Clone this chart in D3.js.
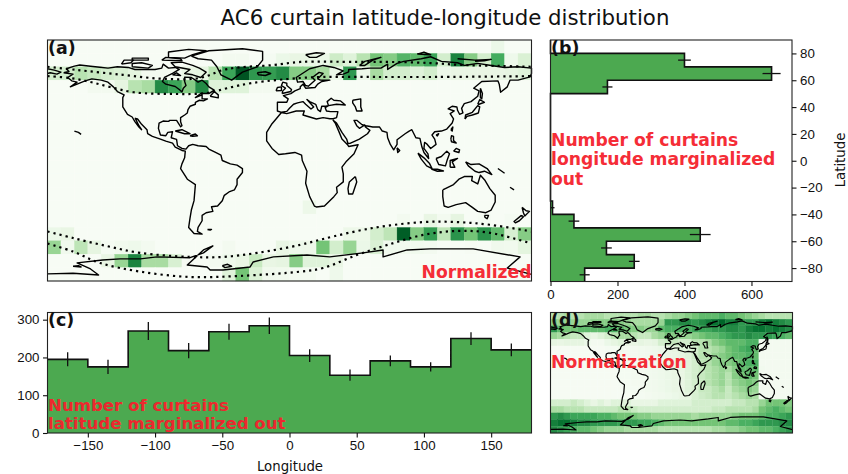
<!DOCTYPE html>
<html>
<head>
<meta charset="utf-8">
<script src="https://cdn.jsdelivr.net/npm/d3@7"></script>
<style>
  body { margin: 0; background: #fff; }
  svg { display: block; font-family: "DejaVu Sans", sans-serif; }
  .tick text { font-size: 13.3px; fill: #111; }
  .domain { display: none; }
  .tick line { stroke: #111; stroke-width: 1.1; }
  .coast { fill: none; stroke: #000; stroke-linejoin: round; }
  .red { fill: #f5222d; opacity: 0.95; font-weight: bold; font-size: 17.2px; }
  .panel { font-weight: bold; font-size: 17.4px; fill: #111; }
</style>
</head>
<body>
<svg id="chart" width="848" height="474"></svg>
<script>
// panel (b): curtains per 10 deg latitude bin, north to south
var latEdges = [90, 80, 70, 60, 50, 40, 30, 20, 10, 0, -10, -20, -30, -40, -50, -60, -70, -80, -90];
var latCounts = [0, 400, 660, 170, 0, 0, 0, 0, 0, 0, 0, 0, 6, 70, 447, 167, 250, 102];
var latErrors = [0, 19, 27, 15, 0, 0, 0, 0, 0, 0, 0, 0, 6, 16, 31, 16, 16, 15];

// panel (c): curtains per 30 deg longitude bin
var lonEdges = [-180, -150, -120, -90, -60, -30, 0, 30, 60, 90, 120, 150, 180];
var lonCounts = [195, 175, 270, 218, 268, 284, 205, 153, 191, 175, 250, 220];
var lonErrors = [18.5, 19, 24, 20, 21, 22, 17, 15, 14, 12, 17, 17];

var xTicksLon = [-150, -100, -50, 0, 50, 100, 150];
var yTicksCount = [0, 100, 200, 300];
var yTicksLat = [-80, -60, -40, -20, 0, 20, 40, 60, 80];
var xTicksCount = [0, 200, 400, 600];

// panel (a): normalized curtains, rows 80..90 down to -90..-80, columns -180..180
var curtainGrid = [
  [0,0,0,0,0,0,0,0,0,0,0,0,0,0,0,0,0,0,0,0,0,0,0,0,0,0,0,0,0,0,0,0,0,.08,0,0],
  [0,0,0,0,0,0,0,0,0,0,0,0,0,.03,.03,0,.02,.08,.1,.1,.08,.22,.15,.3,.5,.45,.58,.55,.65,.2,.78,.45,.2,.62,.06,.17],
  [.2,.2,.3,.25,.2,.17,.13,.03,.03,.03,.1,.12,.3,.65,.95,.7,.68,.75,.45,.45,.35,.08,.7,.07,.35,.2,.2,.15,.2,.07,.1,.1,.1,.1,.12,.15],
  [0,0,0,.03,.03,.12,.3,.35,.75,.65,.45,.75,.15,.15,.15,.03,.03,0,.02,0,0,0,0,0,0,0,0,0,0,0,0,0,0,0,0,0],
  [0,0,0,0,0,0,0,0,0,0,0,0,0,0,0,0,0,0,0,0,0,0,0,0,0,0,0,0,0,0,0,0,0,0,0,0],
  [0,0,0,0,0,0,0,0,0,0,0,0,0,0,0,0,0,0,0,0,0,0,0,0,0,0,0,0,0,0,0,0,0,0,0,0],
  [0,0,0,0,0,0,0,0,0,0,0,0,0,0,0,0,0,0,0,0,0,0,0,0,0,0,0,0,0,0,0,0,0,0,0,0],
  [0,0,0,0,0,0,0,0,0,0,0,0,0,0,0,0,0,0,0,0,0,0,0,0,0,0,0,0,0,0,0,0,0,0,0,0],
  [0,0,0,0,0,0,0,0,0,0,0,0,0,0,0,0,0,0,0,0,0,0,0,0,0,0,0,0,0,0,0,0,0,0,0,0],
  [0,0,0,0,0,0,0,0,0,0,0,0,0,0,0,0,0,0,0,0,0,0,0,0,0,0,0,0,0,0,0,0,0,0,0,0],
  [0,0,0,0,0,0,0,0,0,0,0,0,0,0,0,0,0,0,0,0,0,0,0,0,0,0,0,0,0,0,0,0,0,0,0,0],
  [0,0,0,0,0,0,0,0,0,0,0,0,0,0,0,0,0,0,0,0,0,0,0,0,0,0,0,0,0,0,0,0,0,0,0,0],
  [0,0,0,0,0,0,0,0,0,0,0,0,0,0,0,0,0,0,0,.07,0,0,0,0,0,0,0,0,0,0,0,0,0,0,0,0],
  [0,0,0,0,0,0,0,0,0,0,0,0,0,0,0,0,0,0,0,0,0,0,0,0,0,0,.03,0,.1,.03,.12,0,.02,0,.02,0],
  [.08,.1,0,0,0,0,0,0,0,0,0,0,0,0,0,0,0,0,0,0,0,0,.07,.07,.2,.28,.92,.45,.68,.28,.72,.5,.72,.55,.18,.45],
  [.4,.05,.28,.12,.02,.04,.06,.03,0,0,0,0,0,.03,0,0,0,.1,.06,.07,.5,.2,.4,.08,.17,.05,.04,.04,.03,0,0,.01,0,.05,.04,.13],
  [0,0,0,0,.1,.4,.78,.35,.35,.18,.01,.01,.03,.06,.1,.25,.1,.12,.45,.15,.15,.1,0,0,0,0,0,0,0,0,0,0,0,0,0,0],
  [0,0,0,0,0,0,0,0,0,0,0,0,0,.15,.5,.17,.05,.04,.03,.03,0,.06,0,0,0,0,0,0,0,0,0,0,0,0,0,0]
];

// panel (d): normalization, same binning as (a)
var normGrid = [
  [.3,.3,.35,.3,.3,.35,.35,.35,.3,.3,.3,.3,.3,.35,.35,.3,.3,.35,.4,.4,.45,.5,.55,.55,.55,.6,.55,.55,.5,.45,.4,.35,.3,.3,.3,.3],
  [.45,.4,.4,.4,.4,.4,.45,.45,.45,.45,.45,.4,.35,.35,.35,.35,.4,.7,.7,.75,.75,.7,.75,.8,.85,.9,.8,.8,.7,.7,.7,.8,.85,.8,.75,.7],
  [.7,.55,.5,.5,.55,.55,.55,.55,.6,.6,.55,.5,.45,.45,.4,.4,.55,.6,.6,.6,.6,.65,.65,.65,.7,.7,.75,.75,.7,.8,.85,.85,.8,.85,.8,.75],
  [.4,.35,.3,.25,.25,.15,.1,.15,.2,.3,.35,.35,.3,.25,.25,.35,.4,.5,.45,.4,.4,.45,.5,.55,.55,.6,.65,.7,.7,.75,.7,.7,.7,.65,.6,.55],
  [.12,.1,.12,.12,.12,.08,.03,.03,.08,.12,.15,.1,.1,.12,.1,.12,.2,.25,.25,.2,.2,.3,.3,.35,.45,.5,.55,.55,.55,.6,.6,.03,.03,.03,.03,.03],
  [.01,.01,.01,.01,.01,.01,.01,.01,.02,.02,.05,.03,.03,.04,.05,.06,.08,.1,.12,.15,.15,.2,.3,.3,.35,.4,.5,.55,.6,.65,.55,.03,.03,.03,.03,.03],
  [.01,.01,.01,.01,.01,.01,.01,.01,.01,.02,.03,.03,.03,.04,.05,.06,.07,.1,.1,.12,.15,.22,.3,.3,.4,.45,.5,.55,.55,.6,.55,.03,.03,.03,.03,.03],
  [.01,.01,.01,.01,.01,.01,.01,.01,.01,.01,.02,.03,.03,.03,.04,.05,.06,.08,.1,.12,.15,.2,.28,.32,.4,.45,.45,.5,.55,.6,.6,.03,.03,.03,.03,.03],
  [.01,.01,.01,.01,.01,.01,.01,.01,.01,.01,.02,.02,.03,.03,.04,.05,.06,.08,.1,.1,.15,.2,.25,.3,.35,.4,.35,.45,.55,.55,.55,.04,.03,.03,.03,.03],
  [.01,.01,.01,.01,.01,.01,.01,.01,.01,.01,.02,.02,.03,.03,.04,.05,.06,.08,.1,.1,.15,.2,.25,.3,.35,.4,.3,.45,.5,.55,.5,.04,.04,.03,.03,.03],
  [.01,.01,.01,.01,.01,.01,.01,.01,.01,.01,.02,.02,.03,.03,.04,.05,.06,.08,.1,.1,.15,.2,.25,.3,.35,.4,.3,.4,.45,.5,.45,.03,.03,.03,.03,.03],
  [.01,.01,.01,.01,.01,.01,.01,.01,.01,.01,.01,.02,.02,.03,.04,.05,.06,.08,.1,.1,.15,.18,.25,.25,.3,.35,.25,.35,.4,.45,.4,.03,.03,.03,.03,.03],
  [.01,.01,.01,.01,.01,.01,.01,.01,.01,.01,.01,.01,.02,.02,.03,.04,.05,.06,.08,.1,.12,.18,.22,.25,.3,.3,.25,.3,.35,.4,.35,.03,.03,.03,.03,.03],
  [.2,.2,.2,.25,.2,.15,.1,.15,.1,.15,.15,.15,.1,.1,.1,.1,.15,.15,.15,.15,.15,.2,.2,.2,.2,.2,.2,.25,.25,.3,.3,.4,.5,.5,.5,.45],
  [.35,.35,.3,.3,.3,.25,.25,.25,.25,.25,.3,.3,.25,.2,.2,.2,.2,.2,.2,.2,.2,.2,.2,.2,.25,.25,.3,.3,.3,.3,.35,.5,.55,.6,.55,.5],
  [.7,.75,.7,.65,.65,.65,.65,.6,.6,.55,.5,.5,.5,.45,.45,.4,.4,.4,.4,.4,.4,.35,.4,.4,.4,.4,.4,.45,.5,.5,.5,.55,.6,.6,.65,.7],
  [.8,.85,.85,.8,.75,.75,.7,.7,.7,.7,.65,.7,.7,.65,.65,.6,.55,.5,.5,.5,.5,.5,.5,.5,.5,.5,.55,.55,.6,.6,.65,.7,.7,.7,.75,.75],
  [.75,.7,.65,.6,.55,.55,.5,.45,.4,.4,.4,.35,.35,.35,.35,.35,.3,.3,.3,.3,.3,.3,.3,.3,.35,.35,.4,.4,.45,.5,.5,.55,.55,.6,.65,.7]
];

// dotted L-shell contours, [lon, lat]
var contours = [
  [[-180,70],[-158,67.6],[-124,64],[-94,61],[-67,61.6],[-46.5,68.3],[-12,71.3],[8,73.6],[50,73.6],[75,73.6],[104.6,72.8],[129,71.3],[157,70.6],[180,70]],
  [[-180,63],[-163,61.6],[-148,58.6],[-133.5,54.9],[-116,51],[-87,49.7],[-61.3,50.4],[-46.5,54],[-27,58],[8,61.6],[25,62.4],[50,62.4],[110,62.4],[180,63]],
  [[-180,-53],[-161,-57.9],[-136,-63.9],[-111,-69],[-74,-72],[-49.4,-72],[-24,-69],[8,-63],[25,-58.6],[62,-50.4],[99.4,-46],[125,-46],[149,-48],[180,-53]],
  [[-180,-62],[-161,-68],[-141,-76.5],[-111,-83],[-74,-87],[-37,-86.2],[8,-83],[25,-80.3],[50,-70.6],[73,-63],[99.4,-55.6],[125,-52.6],[149,-54],[180,-62]]
];

// rough coastlines, [lon, lat]
var coasts = [
  [[-168,65.5],[-164,66.5],[-166,68.5],[-160,70.5],[-156,71.3],[-148,70.4],[-141,69.7],[-135,69],[-128,70],[-120,69.5],[-115,68],[-108,68],[-100,68],[-95,69],[-94,72],[-90,69],[-85,69.5],[-82,68],[-87,65],[-93,62],[-94.5,59],[-92,57],[-85,55.3],[-82,53],[-80,51.2],[-79,54],[-77,56],[-78,59],[-78,62.3],[-73,62],[-70,60],[-68,58.5],[-65,60],[-62,57.5],[-60,55],[-56,52.5],[-60,50],[-66,50],[-70,47],[-65,49],[-65,46],[-61,46],[-64,44.5],[-67,45],[-70,43.5],[-70,42],[-74,40.5],[-75.5,38],[-76,35.5],[-78,34],[-81,32],[-81,29],[-80,26],[-81,25.2],[-82.7,28],[-84,30],[-89,30],[-90,29.2],[-94,29.5],[-97,28],[-97.5,24],[-96,19],[-92,18.5],[-90.5,21],[-87,21.5],[-88,17],[-84,15.8],[-83.3,11],[-80,9],[-77,8.5],[-75,11],[-72,12],[-68,11],[-62,10.5],[-60,8.5],[-55,6],[-51,4],[-50,0],[-44,-2.5],[-39,-3.5],[-35,-6],[-35,-9],[-39,-14],[-39,-18],[-41,-22],[-45,-23.5],[-48.5,-26],[-50,-30],[-53.5,-34],[-58,-34.5],[-57,-38],[-62,-39],[-65,-41],[-65,-45],[-68,-50],[-68.5,-53],[-65,-55],[-71,-54.5],[-75,-50],[-74,-43],[-73,-37],[-71,-30],[-70,-18],[-76,-14],[-81,-6],[-80,-2.5],[-78,2],[-77.5,7],[-80,7.5],[-85,10],[-87,13],[-92,14.5],[-96,16],[-102,18],[-105.5,20],[-106,23],[-110,27],[-113,31],[-114.7,31.5],[-112,26],[-110,23],[-112,25],[-115,29],[-117,32.5],[-120.5,34.5],[-124,40],[-124,47],[-123,49],[-128,51.5],[-131,55],[-135,58.5],[-140,60],[-147,61],[-152,59.5],[-158,57],[-163,55],[-158,58.5],[-162,59.5],[-165,62],[-161,64.5],[-168,65.5]],
  [[-73,78],[-60,82],[-35,83.5],[-20,81.5],[-20,75],[-24,70],[-35,66],[-43,60],[-51,64],[-54,70],[-58,75],[-68,76],[-73,78]],
  [[-80,73.5],[-72,71],[-67,69],[-62,66],[-66,62],[-72,64],[-78,65],[-74,68],[-85,70],[-88,73],[-80,73.5]],
  [[-117,70],[-105,69],[-102,71],[-110,73],[-117,72.5],[-117,70]],
  [[-125,72],[-118,73],[-116,75],[-123,75],[-125,72]],
  [[-90,77],[-78,76.5],[-72,79],[-62,82],[-75,83],[-90,81],[-90,77]],
  [[-95,75],[-80,74.5],[-81,76],[-92,77],[-95,75]],
  [[-117,75],[-105,75],[-105,76.5],[-117,76.5],[-117,75]],
  [[-87,64],[-81,63.5],[-84,65.5],[-87,64]],
  [[-59,48],[-53,46.8],[-53,49],[-56,51.5],[-59,48]],
  [[-85,22],[-80,23],[-74,20],[-78,20],[-85,22]],
  [[-74,18.5],[-70,19.8],[-68.5,18.5],[-72,18],[-74,18.5]],
  [[-160,22],[-157,21],[-155,19.5]],
  [[-180,68.5],[-175,67.5],[-170,66],[-173,64.5],[-178,65.5],[-180,65]],
  [[-6,35.8],[-10,31],[-13,27.5],[-17,21],[-17,14.7],[-13,9],[-8,4.5],[-3,5],[4,6],[9,4],[9.5,0],[13,-8],[12,-17],[15,-27],[18.5,-34],[20,-34.7],[26,-34],[33,-27],[35.5,-24],[35,-20],[40,-16],[40,-10],[39,-5],[42,-1],[48,5],[51,11.8],[44,10.5],[43,12],[39,16],[37,21],[34,28],[32.5,30],[35,28],[39,21],[42.5,16],[43.5,12.7],[45,12.8],[52,16],[58,20],[59.8,22.5],[56.5,25],[56,26.5],[52,24],[50,26],[48,30],[50,30],[54,26.7],[57,26],[62,25],[67,25],[69,22],[72.5,21],[73,17],[75,12],[77.5,8],[80,12],[80,15.5],[86,20],[89,22],[91,23],[94,17],[97,16.5],[98.5,10],[100,6],[103.5,1.5],[103,5],[100,9],[100.5,13.5],[102,12.5],[105,9],[109,12],[108,16],[106,19],[108,21.5],[113,22],[117,23.5],[121,28],[122,31],[119.5,35],[122.5,37],[118,38.5],[121,40.5],[124.5,40],[125,37.5],[126.5,34.5],[129,35.5],[128,39],[130,42.5],[135,44],[140,48],[141,52],[137,54],[143,59],[155,59.5],[156,57],[157,51],[162,55],[164,60],[170,60],[179,62.5],[180,65],[180,69],[170,70],[160,69.5],[150,71],[140,72.5],[130,71],[125,73],[113,74],[105,77.5],[98,76],[85,74],[80,72.5],[73,68],[73,72],[68,69],[60,69],[54,68.5],[44,68],[44,66.2],[40,64.5],[35,64],[40,67],[33,69.5],[25,71],[15,68.5],[5,62],[6,58.5],[10,59],[12,56],[14,55.5],[19,60],[17,62],[22,65.8],[25,65],[21,61],[23,60],[30,60],[24,59],[21,57],[19,54.5],[12,54],[10,57],[8,55],[8,53.7],[4,52],[1,50],[-4.5,48.5],[-1,46],[-2,43.5],[-9,43.5],[-9,37],[-6,36],[-2,36.7],[0,39],[3,42],[6,43],[10,44],[12,42],[16,38.5],[18,40],[13,45.5],[15,44],[19.5,42],[21,38],[23,36.5],[24,40.5],[27,40.5],[29,41],[35,42],[41.5,41.5],[38,44.5],[33,45],[31,46.5],[28,44],[29,41],[26.5,39.5],[27.5,37],[30.5,36.5],[36,36.5],[35,32],[32.5,31.2],[30,31.2],[25,32],[20,31],[15,32.5],[10,34],[11,37],[5,37],[-2,35],[-6,35.8]],
  [[47,45],[53,46],[53,40],[54,37],[50,37],[49,40],[47,43],[47,45]],
  [[-24,65.5],[-18,66.3],[-14,65],[-18,63.5],[-23,64],[-24,65.5]],
  [[-5.5,50],[1,51.5],[1.5,53],[-2,56],[-2,57.7],[-5,58.5],[-6,56],[-3,54],[-5,52],[-5.5,50]],
  [[-10,52],[-6,52.3],[-6,55],[-9,54.5],[-10,52]],
  [[12,79],[20,80.5],[26,80],[20,77],[15,77],[12,79]],
  [[52,71],[56,74],[68,77],[62,75],[56,71],[52,71]],
  [[95,79.5],[105,79],[100,81],[95,79.5]],
  [[125,76],[138,75],[150,75.5],[145,74.5],[138,74]],
  [[142,54],[143.5,50],[143,46],[142,47],[142,54]],
  [[130.5,31],[131,34],[136,36],[140,41],[141.5,40],[140.5,35.5],[136,34],[132,33],[130.5,31]],
  [[140,42],[141.5,45.5],[145,43.5],[141,42],[140,42]],
  [[120,23],[121.5,25],[121,22],[120,23]],
  [[109,19],[111,20],[110,18.3],[109,19]],
  [[120,16],[120.5,18.5],[122,18],[122,15],[124,13],[120.5,14],[120,16]],
  [[122,7],[124,9],[126.5,8],[126,6],[124,6.5],[122,7]],
  [[95.5,5.5],[100,2],[104,-2],[106,-6],[102,-4],[98,1],[95.5,5.5]],
  [[105.5,-6.5],[110,-6.5],[114.5,-7.8],[110,-8],[105.5,-6.5]],
  [[109,1.5],[113,3],[117,7],[119,5],[117.5,1],[116,-4],[111,-3],[109,1.5]],
  [[119.5,-5],[119.5,0],[125,1.5],[121,-1],[123,-5],[119.5,-5]],
  [[131,-1],[135,-3],[141,-2.5],[147,-6],[150.5,-10.5],[145,-8],[141,-9],[138,-8],[133,-4],[131,-1]],
  [[114,-22],[122,-18],[126,-14],[130,-12],[136,-12],[135.5,-15],[140,-17.5],[142,-11],[145.5,-15],[149,-21],[153,-26],[153,-31],[150,-37],[146,-39],[140,-38],[136,-35],[131,-31.5],[124,-33],[118,-35],[115,-34],[114,-27],[114,-22]],
  [[145,-41],[148,-41],[147,-43.5],[145.5,-42.5],[145,-41]],
  [[173,-35],[176,-37.5],[178.5,-38],[175,-41.5],[174,-39],[173,-35]],
  [[172.5,-41],[174,-42],[171,-45],[168,-46.5],[167,-45.5],[172.5,-41]],
  [[49,-12],[50,-16],[47,-25],[44,-25],[43.5,-21],[44.5,-16],[49,-12]],
  [[80,9.5],[82,7.5],[80.5,6],[80,9.5]],
  [[155,-6],[160,-9.5]],
  [[164,-20],[167,-22]],
  [[-61,-51.5],[-58,-51.5],[-59,-52],[-61,-51.5]],
  [[-180,-84.7],[-161,-84.2],[-142,-85.5],[-148,-81],[-158,-76.5],[-139,-74.3],[-126,-73.5],[-111,-73.5],[-98.5,-72],[-74,-72.6],[-64,-69],[-57,-63.8],[-64,-66.8],[-76,-78],[-61.3,-79.5],[-59,-81.8],[-49.4,-81.8],[-29.3,-79.5],[-27,-75.8],[-12,-72],[13,-70.6],[30,-72],[54.7,-69],[69.6,-66.8],[69.6,-72],[87.5,-66.8],[104.6,-66],[136.6,-66],[171.5,-72],[162,-80.3],[180,-85]],
  [[-50,-78.5],[-46,-77.5],[-43,-79],[-48,-80],[-50,-78.5]],
  [[-161,-79],[-157,-78.5],[-155,-79.5],[-161,-79]]
];

var allLon = d3.range(-180, 180, 10);
var allLat = d3.range(80, -100, -10);

var svg = d3.select("#chart");
var colorStops = d3.schemeGreens[9];
var color = d3.scaleLinear()
  .domain(colorStops.map(function (d, i) { return i / 8; }))
  .range(colorStops);
var barFill = "#4ca950";

function frame(l, t, r, b) {
  svg.append("rect")
    .attr("x", l).attr("y", t).attr("width", r - l).attr("height", b - t)
    .attr("fill", "none").attr("stroke", "#222").attr("stroke-width", 1.1);
}

function mapPanel(l, t, r, b, grid, sw) {
  var x = d3.scaleLinear().domain([-180, 180]).range([l, r]);
  var y = d3.scaleLinear().domain([90, -90]).range([t, b]);
  var g = svg.append("g");
  grid.forEach(function (row, j) {
    row.forEach(function (v, i) {
      g.append("rect")
        .attr("x", x(allLon[i])).attr("y", y(allLat[j] + 10))
        .attr("width", x(allLon[i] + 10) - x(allLon[i]))
        .attr("height", y(allLat[j]) - y(allLat[j] + 10))
        .attr("fill", color(v))
        .attr("stroke", color(v)).attr("stroke-width", 0.3);
    });
  });
  var line = d3.line().x(function (d) { return x(d[0]); }).y(function (d) { return y(d[1]); });
  coasts.forEach(function (c) {
    g.append("path").attr("class", "coast").attr("d", line(c)).attr("stroke-width", sw);
  });
  return { x: x, y: y, line: line };
}

function redText(x, lines, y0, dy, anchor, size) {
  lines.forEach(function (s, i) {
    var t = svg.append("text").attr("class", "red")
      .attr("x", x).attr("y", y0 + i * dy)
      .attr("text-anchor", anchor || "start")
      .text(s);
    if (size) t.style("font-size", size + "px");
  });
}

function label(x, y, s) {
  svg.append("text").attr("class", "panel").attr("x", x).attr("y", y).text(s);
}

// (a)
var a = mapPanel(47.5, 40, 531.5, 281, curtainGrid, 1.4);
var dots = d3.line()
  .x(function (d) { return a.x(d[0]); })
  .y(function (d) { return a.y(d[1]); })
  .curve(d3.curveCatmullRom);
contours.forEach(function (c) {
  svg.append("path").attr("d", dots(c))
    .attr("fill", "none").attr("stroke", "#000")
    .attr("stroke-width", 2.2).attr("stroke-dasharray", "2.2,4");
});
frame(47.5, 40, 531.5, 281);
label(48, 53.5, "(a)");
redText(531.5, ["Normalized"], 278, 0, "end");

// (b)
var bx = d3.scaleLinear().domain([0, 721]).range([550.5, 792]);
var by = d3.scaleLinear().domain([90, -90]).range([40, 281.5]);
var bPts = [];
latCounts.forEach(function (v, i) {
  bPts.push([v, latEdges[i]], [v, latEdges[i + 1]]);
});
svg.append("path")
  .attr("d", d3.area().x0(bx(0)).x1(function (d) { return bx(d[0]); }).y(function (d) { return by(d[1]); })(bPts))
  .attr("fill", barFill);
svg.append("path")
  .attr("d", d3.line().x(function (d) { return bx(d[0]); }).y(function (d) { return by(d[1]); })(bPts))
  .attr("fill", "none").attr("stroke", "#111").attr("stroke-width", 1.6);
latCounts.forEach(function (v, i) {
  if (!v) return;
  var mid = (latEdges[i] + latEdges[i + 1]) / 2;
  svg.append("line")
    .attr("x1", bx(v - latErrors[i])).attr("x2", bx(v + latErrors[i]))
    .attr("y1", by(mid)).attr("y2", by(mid))
    .attr("stroke", "#111").attr("stroke-width", 1.3);
});
frame(550.5, 40, 792, 281.5);
svg.append("g").attr("transform", "translate(0,281.5)")
  .call(d3.axisBottom(bx).tickValues(xTicksCount).tickSize(4.5).tickPadding(3.5));
svg.append("g").attr("transform", "translate(792,0)")
  .call(d3.axisRight(by).tickValues(yTicksLat).tickSize(4.5).tickPadding(3.5));
svg.append("text").attr("transform", "translate(845,160) rotate(-90)")
  .attr("text-anchor", "middle").attr("font-size", 13.3).attr("fill", "#111").text("Latitude");
label(551, 53.5, "(b)");
redText(551, ["Number of curtains", "longitude marginalized", "out"], 146, 19.3);

// (c)
var cx = d3.scaleLinear().domain([-180, 180]).range([47.5, 531.5]);
var cy = d3.scaleLinear().domain([0, 319]).range([433, 312.5]);
var cPts = [];
lonCounts.forEach(function (v, i) {
  cPts.push([lonEdges[i], v], [lonEdges[i + 1], v]);
});
svg.append("path")
  .attr("d", d3.area().x(function (d) { return cx(d[0]); }).y0(cy(0)).y1(function (d) { return cy(d[1]); })(cPts))
  .attr("fill", barFill);
svg.append("path")
  .attr("d", d3.line().x(function (d) { return cx(d[0]); }).y(function (d) { return cy(d[1]); })(cPts))
  .attr("fill", "none").attr("stroke", "#111").attr("stroke-width", 1.6);
lonCounts.forEach(function (v, i) {
  var mid = (lonEdges[i] + lonEdges[i + 1]) / 2;
  svg.append("line")
    .attr("x1", cx(mid)).attr("x2", cx(mid))
    .attr("y1", cy(v - lonErrors[i])).attr("y2", cy(v + lonErrors[i]))
    .attr("stroke", "#111").attr("stroke-width", 1.3);
});
frame(47.5, 312.5, 531.5, 433);
svg.append("g").attr("transform", "translate(0,433)")
  .call(d3.axisBottom(cx).tickValues(xTicksLon).tickSize(4.5).tickPadding(3.5));
svg.append("g").attr("transform", "translate(47.5,0)")
  .call(d3.axisLeft(cy).tickValues(yTicksCount).tickSize(4.5).tickPadding(3.5));
svg.append("text").attr("x", 290).attr("y", 471)
  .attr("text-anchor", "middle").attr("font-size", 13.3).attr("fill", "#111").text("Longitude");
label(48, 325.5, "(c)");
redText(48, ["Number of curtains", "latitude marginalized out"], 410.5, 18.8, "start", 16.6);

// (d)
mapPanel(550.5, 312.5, 792.5, 433, normGrid, 1.2);
frame(550.5, 312.5, 792.5, 433);
label(551, 325.5, "(d)");
redText(551, ["Normalization"], 368, 0);

svg.append("text").attr("x", 445).attr("y", 25)
  .attr("text-anchor", "middle").attr("font-size", 21.3).attr("fill", "#111")
  .text("AC6 curtain latitude-longitude distribution");
</script>
</body>
</html>
